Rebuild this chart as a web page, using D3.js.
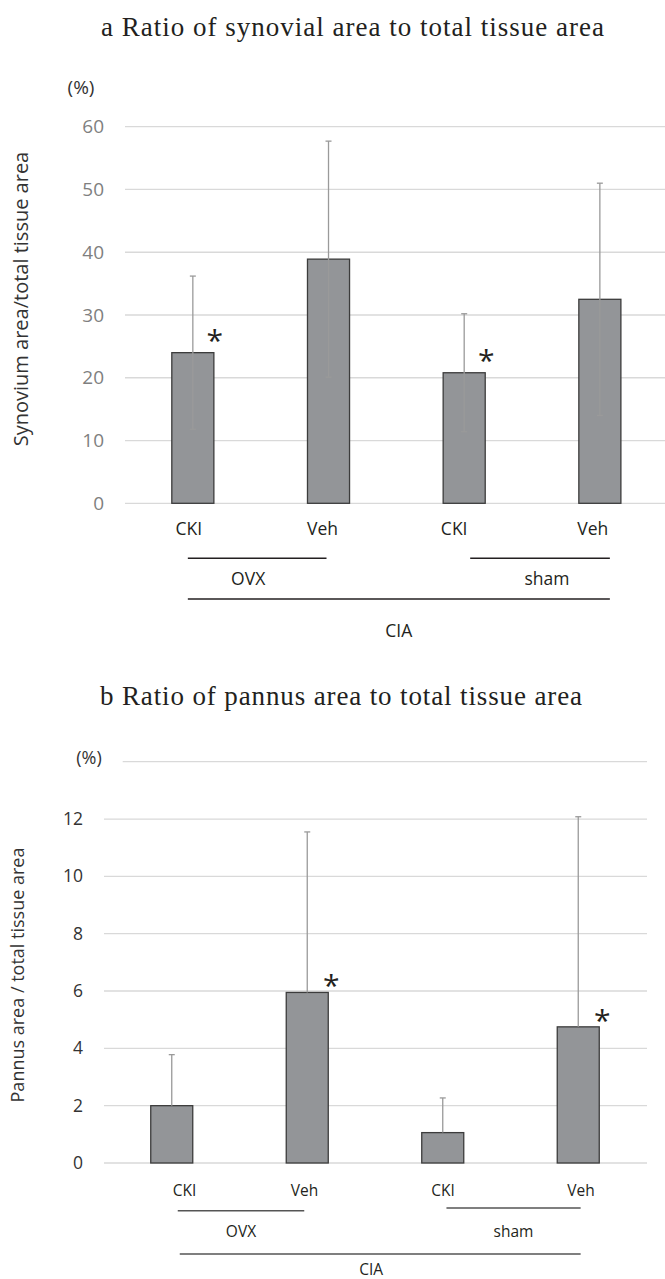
<!DOCTYPE html>
<html>
<head>
<meta charset="utf-8">
<script src="https://cdn.jsdelivr.net/npm/d3@7"></script>
<style>
  body { margin: 0; background: #fff; }
  svg { display: block; }
  .sans { font-family: "Open Sans", "Noto Sans", sans-serif; }
  .serif { font-family: "Liberation Serif", "Times New Roman", serif; }
</style>
</head>
<body>
<script>
const width = 665;
const height = 1279;

// categories, shared by both panels
const categories = ['CKI', 'Veh', 'CKI', 'Veh'];

// a: synovium area / total tissue area (%)
const synovialMean = [24.0, 38.9, 20.8, 32.5];
const synovialSD = [12.2, 18.8, 9.4, 18.5];
const synovialSig = [true, false, true, false];
const synovialTicks = [0, 10, 20, 30, 40, 50, 60];

// b: pannus area / total tissue area (%)
const pannusMean = [2.0, 5.95, 1.06, 4.75];
const pannusSD = [1.78, 5.6, 1.21, 7.33];
const pannusSig = [false, true, false, true];
const pannusTicks = [0, 2, 4, 6, 8, 10, 12];

// group brackets under the axis (category index ranges)
const groupLabels = ['OVX', 'sham', 'CIA'];
const groupFrom = [0, 2, 0];
const groupTo = [1, 3, 3];
const groupRow = [0, 0, 1];

const svg = d3.select('body').append('svg')
    .attr('width', width)
    .attr('height', height);

function drawPanel(p) {
    const g = svg.append('g');
    const x = d3.scaleBand()
        .domain(d3.range(categories.length))
        .range(p.xRange)
        .paddingInner(0.69)
        .paddingOuter(0.345);
    const y = d3.scaleLinear().domain(p.yDomain).range(p.yRange);

    // title
    g.append('text')
        .attr('class', 'serif')
        .attr('x', p.titleX)
        .attr('y', p.titleY)
        .attr('font-size', p.titleSize)
        .attr('textLength', p.titleWidth)
        .attr('lengthAdjust', 'spacing')
        .attr('fill', '#231f20')
        .text(p.title);

    // gridlines
    g.append('g')
        .selectAll('line')
        .data(p.gridValues)
        .enter().append('line')
        .attr('x1', function (d) { return d === p.yDomain[1] ? p.topGridStart : p.gridStart; })
        .attr('x2', p.gridEnd)
        .attr('y1', function (d) { return y(d); })
        .attr('y2', function (d) { return y(d); })
        .attr('stroke', '#d9d9d9')
        .attr('stroke-width', 1.3);

    // y axis labels
    const axis = d3.axisLeft(y).tickValues(p.ticks).tickSize(0).tickPadding(0);
    const ax = g.append('g')
        .attr('transform', 'translate(' + p.tickX + ',0)')
        .call(axis);
    ax.select('.domain').remove();
    ax.selectAll('text')
        .attr('font-size', p.tickSize)
        .attr('font-family', '"Open Sans", sans-serif')
        .attr('fill', p.tickColor);

    g.append('text')
        .attr('class', 'sans')
        .attr('x', p.pctX)
        .attr('y', p.pctY)
        .attr('text-anchor', 'middle')
        .attr('dominant-baseline', 'central')
        .attr('font-size', p.pctSize)
        .attr('fill', '#333')
        .text('(%)');

    g.append('text')
        .attr('class', 'sans')
        .attr('transform', 'translate(' + p.yTitleX + ',' + p.yTitleY + ') rotate(-90)')
        .attr('text-anchor', 'middle')
        .attr('dominant-baseline', 'central')
        .attr('font-size', p.yTitleSize)
        .attr('fill', '#333')
        .text(p.yTitle);

    const rows = d3.range(categories.length).map(function (i) {
        return {i: i, mean: p.mean[i], sd: p.sd[i], sig: p.sig[i]};
    });

    // bars
    g.append('g')
        .selectAll('rect')
        .data(rows)
        .enter().append('rect')
        .attr('x', function (d) { return x(d.i); })
        .attr('width', x.bandwidth())
        .attr('y', function (d) { return y(d.mean); })
        .attr('height', function (d) { return y(0) - y(d.mean); })
        .attr('fill', '#939598')
        .attr('stroke', '#3c3c3c')
        .attr('stroke-width', 1.3);

    // error bars
    const cx = function (d) { return x(d.i) + x.bandwidth() / 2; };
    const eb = g.append('g')
        .attr('stroke', p.errColor)
        .attr('stroke-width', 1.3);
    eb.selectAll('line.stem')
        .data(rows)
        .enter().append('line')
        .attr('class', 'stem')
        .attr('x1', cx).attr('x2', cx)
        .attr('y1', function (d) { return y(p.bothSides ? d.mean - d.sd : d.mean); })
        .attr('y2', function (d) { return y(d.mean + d.sd); });
    eb.selectAll('line.capTop')
        .data(rows)
        .enter().append('line')
        .attr('class', 'capTop')
        .attr('x1', function (d) { return cx(d) - 3; })
        .attr('x2', function (d) { return cx(d) + 3; })
        .attr('y1', function (d) { return y(d.mean + d.sd); })
        .attr('y2', function (d) { return y(d.mean + d.sd); });
    if (p.bothSides) {
        eb.selectAll('line.capBot')
            .data(rows)
            .enter().append('line')
            .attr('class', 'capBot')
            .attr('x1', function (d) { return cx(d) - 3; })
            .attr('x2', function (d) { return cx(d) + 3; })
            .attr('y1', function (d) { return y(d.mean - d.sd); })
            .attr('y2', function (d) { return y(d.mean - d.sd); });
    }

    // significance marks
    g.append('g')
        .selectAll('text')
        .data(rows.filter(function (d) { return d.sig; }))
        .enter().append('text')
        .attr('class', 'sans')
        .attr('x', function (d) { return cx(d) + p.starDx; })
        .attr('y', function (d) { return y(d.mean) - p.starDy; })
        .attr('text-anchor', 'middle')
        .attr('font-size', 30)
        .attr('fill', '#231f20')
        .text('*');

    // category labels
    g.append('g')
        .selectAll('text')
        .data(rows)
        .enter().append('text')
        .attr('class', 'sans')
        .attr('x', function (d) { return cx(d) + p.labelNudge[d.i]; })
        .attr('y', p.labelY)
        .attr('text-anchor', 'middle')
        .attr('dominant-baseline', 'central')
        .attr('font-size', p.labelSize)
        .attr('fill', '#231f20')
        .text(function (d) { return categories[d.i]; });

    // group brackets
    const brackets = groupLabels.map(function (label, k) {
        const x1 = x(groupFrom[k]) + x.bandwidth() / 2 + p.bracketNudge[k][0];
        const x2 = x(groupTo[k]) + x.bandwidth() / 2 + p.bracketNudge[k][1];
        return {label: label, x1: x1, x2: x2, row: groupRow[k], k: k};
    });
    g.append('g')
        .selectAll('line')
        .data(brackets)
        .enter().append('line')
        .attr('x1', function (d) { return d.x1; })
        .attr('x2', function (d) { return d.x2; })
        .attr('y1', function (d) { return p.bracketLineY[d.k]; })
        .attr('y2', function (d) { return p.bracketLineY[d.k]; })
        .attr('stroke', p.bracketColor)
        .attr('stroke-width', 1.4);
    g.append('g')
        .selectAll('text')
        .data(brackets)
        .enter().append('text')
        .attr('class', 'sans')
        .attr('x', function (d) { return (d.x1 + d.x2) / 2 + p.bracketLabelNudge[d.k]; })
        .attr('y', function (d) { return p.bracketTextY[d.row]; })
        .attr('text-anchor', 'middle')
        .attr('dominant-baseline', 'central')
        .attr('font-size', p.labelSize)
        .attr('fill', '#231f20')
        .text(function (d) { return d.label; });
}

drawPanel({
    title: 'a Ratio of synovial area to total tissue area',
    titleX: 101, titleY: 36, titleSize: 27, titleWidth: 503,
    xRange: [125, 667.7],
    yDomain: [0, 60], yRange: [503.3, 126.7],
    gridValues: synovialTicks, gridStart: 125, topGridStart: 125, gridEnd: 665,
    ticks: synovialTicks, tickX: 104, tickSize: 19, tickColor: '#7f7f7f',
    pctX: 81, pctY: 87, pctSize: 19,
    yTitle: 'Synovium area/total tissue area', yTitleX: 20, yTitleY: 299, yTitleSize: 20,
    mean: synovialMean, sd: synovialSD, sig: synovialSig,
    bothSides: true, errColor: '#9a9a9a',
    starDx: 22, starDy: 2,
    labelY: 528.3, labelSize: 17.5, labelNudge: [-4, -6, -10, -7],
    bracketNudge: [[-5, -2], [6, 10], [-5, 10]],
    bracketLineY: [558.3, 558.3, 599],
    bracketTextY: [577.7, 630],
    bracketLabelNudge: [-9, 7, 0],
    bracketColor: '#231f20'
});

drawPanel({
    title: 'b Ratio of pannus area to total tissue area',
    titleX: 100, titleY: 705, titleSize: 27, titleWidth: 482,
    xRange: [104, 646],
    yDomain: [0, 14], yRange: [1163, 761.7],
    gridValues: [0, 2, 4, 6, 8, 10, 12, 14], gridStart: 104, topGridStart: 122.7, gridEnd: 647,
    ticks: pannusTicks, tickX: 83, tickSize: 17.5, tickColor: '#333',
    pctX: 89, pctY: 756.7, pctSize: 18,
    yTitle: 'Pannus area / total tissue area', yTitleX: 17, yTitleY: 975, yTitleSize: 18,
    mean: pannusMean, sd: pannusSD, sig: pannusSig,
    bothSides: false, errColor: '#9a9a9a',
    starDx: 24, starDy: -4,
    labelY: 1190, labelSize: 15.5, labelNudge: [12.7, -2.8, 0.4, 2.7],
    bracketNudge: [[6, -3], [3.7, 2.4], [8, 2.4]],
    bracketLineY: [1210.7, 1208, 1254],
    bracketTextY: [1230.7, 1269],
    bracketLabelNudge: [0, 0, -9],
    bracketColor: '#555'
});
</script>
</body>
</html>
